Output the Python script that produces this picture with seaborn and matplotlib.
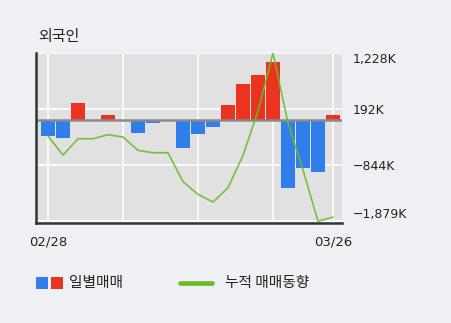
import matplotlib
matplotlib.use("Agg")
import matplotlib.pyplot as plt
from matplotlib.patches import Rectangle
from matplotlib.lines import Line2D
import seaborn as sns
import pandas as pd
import numpy as np

# ---- data (in thousands of shares) ----
daily = [-302, -339, 302, 0, 80, -30, -247, -62, 0, -524,
         -265, -136, 265, 654, 820, 1067, -1264, -894, -968, 80]
cumulative = [-302, -654, -352, -352, -277, -321, -567, -611, -611, -1147,
              -1381, -1523, -1258, -660, 160, 1228, -60, -930, -1879, -1800]
y_ticks = [1228, 192, -844, -1879]
y_labels = ["1,228K", "192K", "\u2212844K", "\u22121,879K"]
x_grid = [0, 5, 10, 15, 19]
x_labels = ["02/28", "", "", "", "03/26"]
title = "외국인"
legend_daily = "일별매매"
legend_cum = "누적 매매동향"

BLUE = "#2f7ee9"
RED = "#ec3320"
GREEN = "#69bd2a"
FIG_BG = "#eef0f3"
AX_BG = "#e1e1e1"

sns.set_style("white")
plt.rcParams["font.family"] = ["DejaVu Sans", "Noto Sans CJK KR"]

W, H = 451, 323
fig = plt.figure(figsize=(W / 100, H / 100), dpi=100, facecolor=FIG_BG)
ax = fig.add_axes([36 / W, (H - 223.3) / H, 306 / W, 170 / H])
ax.set_facecolor(AX_BG)

df = pd.DataFrame({
    "idx": list(range(len(daily))),
    "daily": daily,
    "cum": cumulative,
})
df["sign"] = np.where(df["daily"] >= 0, "pos", "neg")

sns.barplot(data=df, x="idx", y="daily", hue="sign",
            palette={"pos": RED, "neg": BLUE}, dodge=False,
            width=0.87, ax=ax, legend=False, zorder=3, saturation=1,
            native_scale=True, linewidth=0, edgecolor="none")
sns.lineplot(data=df, x="idx", y="cum", color=GREEN, lw=1.2,
             ax=ax, zorder=5, alpha=0.9)

ax.set_xlim(-0.8, 19.6)
ax.set_ylim(-1916, 1228)

# grid
for xg in x_grid:
    ax.axvline(xg, color="white", lw=1.2, zorder=1)
for yt in y_ticks:
    ax.axhline(yt, color="white", lw=1.2, zorder=1)
ax.axhline(0, color="#8a8a8a", lw=1.8, zorder=4)

ax.set_xticks(x_grid)
ax.set_xticklabels(x_labels, fontsize=9.5, color="#222222")
ax.set_yticks(y_ticks)
ax.set_yticklabels(y_labels, fontsize=9, color="#222222")
ax.yaxis.tick_right()
ax.tick_params(axis="y", length=0, pad=8)
ax.tick_params(axis="x", length=0, pad=9)
lbls = ax.get_yticklabels()
lbls[0].set_va("top")
lbls[-1].set_va("bottom")
ax.set_xlabel("")
ax.set_ylabel("")

for s in ["top", "right"]:
    ax.spines[s].set_visible(False)
ax.spines["left"].set_color("#333333")
ax.spines["left"].set_linewidth(1.8)
ax.spines["bottom"].set_color("#333333")
ax.spines["bottom"].set_linewidth(1.8)
ax.spines["left"].set_zorder(6)
ax.spines["bottom"].set_zorder(6)

# title
fig.text(38 / W, 1 - 37 / H, title, fontsize=10.8, color="#222222",
         va="center", ha="left", family=["Noto Sans CJK KR", "DejaVu Sans"])

# legend (manual)
def fr(x, y):
    return x / W, 1 - y / H

fig.add_artist(Rectangle(fr(36, 289.3), 11.7 / W, 12 / H,
                         transform=fig.transFigure, color=BLUE, lw=0))
fig.add_artist(Rectangle(fr(51, 289.3), 11.7 / W, 12 / H,
                         transform=fig.transFigure, color=RED, lw=0))
fig.text(*fr(69, 283.3), legend_daily, fontsize=10.6, color="#222222",
         va="center", ha="left", family=["Noto Sans CJK KR", "DejaVu Sans"])
fig.add_artist(Line2D([180 / W, 211.7 / W], [1 - 283.3 / H] * 2,
                      transform=fig.transFigure, color=GREEN, lw=3.4))
fig.text(*fr(225, 283.3), legend_cum, fontsize=10.6, color="#222222",
         va="center", ha="left", family=["Noto Sans CJK KR", "DejaVu Sans"])

fig.savefig("out.png", dpi=100, facecolor=FIG_BG)
